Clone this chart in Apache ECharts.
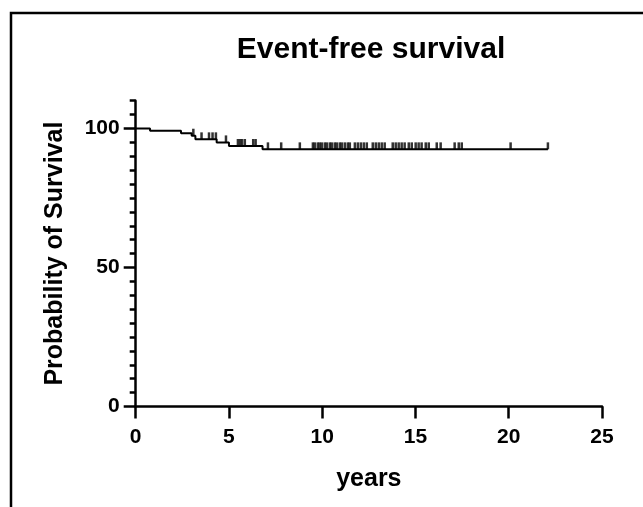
<!DOCTYPE html>
<html>
<head>
<meta charset="utf-8">
<script src="https://cdn.jsdelivr.net/npm/echarts@6/dist/echarts.min.js"></script>
<style>
  html, body { margin: 0; padding: 0; background: #fff; }
  #main { width: 643px; height: 507px; }
</style>
</head>
<body>
<div id="main"></div>
<script>
// event times (years) and survival (%) right after each event
var eventTimes = [0, 0.77, 2.43, 3.0, 3.2, 4.34, 5.0, 6.8];
var survival = [100, 99.2, 98.3, 97.4, 96.1, 95.0, 93.7, 92.5];
var lastTime = 22.1;

// censored observations (years)
var censorTimes = [3.09, 3.53, 3.93, 4.12, 4.3, 4.84, 5.48, 5.6, 5.7, 5.85, 6.3, 6.43,
    7.09, 7.8, 8.8, 9.5, 9.6, 9.76, 9.87, 9.98, 10.14, 10.25, 10.41, 10.51, 10.67,
    10.78, 10.94, 11.05, 11.21, 11.37, 11.48, 11.75, 11.91, 12.07, 12.23, 12.39,
    12.71, 12.87, 13.03, 13.19, 13.35, 13.78, 13.94, 14.1, 14.26, 14.42, 14.64,
    14.8, 15.01, 15.17, 15.33, 15.55, 15.71, 16.14, 16.35, 17.1, 17.32, 17.48,
    20.1, 22.1];

var xTicks = [0, 5, 10, 15, 20, 25];
var yMajor = [0, 50, 100];

var titleText = 'Event-free survival';
var xName = 'years';
var yName = 'Probability of Survival';

function survAt(t) {
    var s = survival[0];
    for (var i = 0; i < eventTimes.length; i++) {
        if (eventTimes[i] <= t) s = survival[i];
    }
    return s;
}

var curve = [];
for (var i = 0; i < eventTimes.length; i++) {
    curve.push([eventTimes[i], survival[i]]);
}
curve.push([lastTime, survAt(lastTime)]);

var censored = [];
for (var j = 0; j < censorTimes.length; j++) {
    censored.push([censorTimes[j], survAt(censorTimes[j])]);
}

var font = 'Liberation Sans, Arial, Helvetica, sans-serif';
var myChart = echarts.init(document.getElementById('main'));
myChart.setOption({
    animation: false,
    backgroundColor: '#fff',
    title: {
        text: titleText,
        left: 366,
        textAlign: 'center',
        top: 30,
        textStyle: { fontFamily: font, fontWeight: 'bold', fontSize: 30, color: '#000' }
    },
    graphic: [{
        type: 'rect',
        shape: { x: 11, y: 13, width: 700, height: 600 },
        style: { fill: 'none', stroke: '#000', lineWidth: 2.5 },
        silent: true
    }],
    grid: { left: 135.7, right: 41, top: 100.7, bottom: 100.5 },
    xAxis: {
        type: 'value',
        min: 0,
        max: 25,
        interval: 5,
        name: xName,
        nameLocation: 'middle',
        nameGap: 60,
        nameTextStyle: { fontFamily: font, fontWeight: 'bold', fontSize: 25, color: '#000' },
        axisLine: { show: true, onZero: false, lineStyle: { color: '#000', width: 2.5 } },
        axisTick: { show: true, length: 12, lineStyle: { color: '#000', width: 2.5 }, customValues: xTicks },
        axisLabel: { margin: 20, fontFamily: font, fontWeight: 'bold', fontSize: 21, color: '#000', customValues: xTicks },
        splitLine: { show: false }
    },
    yAxis: [{
        type: 'value',
        min: 0,
        max: 110,
        interval: 5,
        position: 'left',
        axisLine: { show: true, lineStyle: { color: '#000', width: 2.5 } },
        axisTick: { show: true, length: 6, lineStyle: { color: '#000', width: 2.5 } },
        axisLabel: { show: false },
        splitLine: { show: false }
    }, {
        type: 'value',
        min: 0,
        max: 110,
        interval: 5,
        position: 'left',
        name: yName,
        nameLocation: 'middle',
        nameGap: 68,
        nameTextStyle: { fontFamily: font, fontWeight: 'bold', fontSize: 25, color: '#000' },
        axisLine: { show: false },
        axisTick: { show: true, length: 12, lineStyle: { color: '#000', width: 2.5 }, customValues: yMajor },
        axisLabel: { margin: 16, fontFamily: font, fontWeight: 'bold', fontSize: 21, color: '#000', customValues: yMajor },
        splitLine: { show: false }
    }],
    series: [{
        type: 'line',
        step: 'end',
        data: curve,
        symbol: 'none',
        lineStyle: { color: '#000', width: 2 },
        z: 3
    }, {
        type: 'scatter',
        data: censored,
        symbol: 'rect',
        symbolSize: [2.5, 7],
        symbolOffset: [0, -3.5],
        itemStyle: { color: '#000' },
        z: 4
    }]
});
</script>
</body>
</html>
